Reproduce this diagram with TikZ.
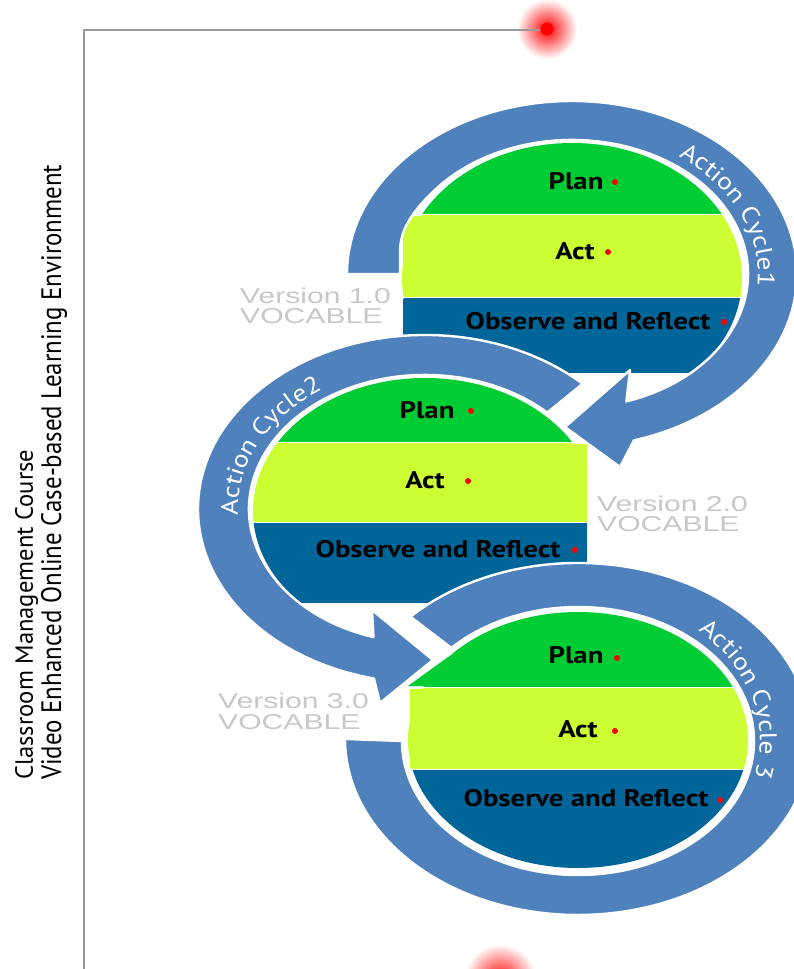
\documentclass[tikz,border=0pt]{standalone}
\usepackage{fontspec}
\usetikzlibrary{decorations.text,calc}
\newfontfamily\bandfont[FakeStretch=1.2]{PT Sans}
\newfontfamily\verfont[FakeStretch=1.4]{Liberation Sans}
\newfontfamily\ringfont[FakeStretch=1.15]{PT Sans}
\newfontfamily\titlefont{PT Sans}
\definecolor{cRing}{HTML}{4F81BD}
\definecolor{cPlan}{HTML}{00CC33}
\definecolor{cAct}{HTML}{CCFF33}
\definecolor{cObs}{HTML}{006699}
\definecolor{cVer}{HTML}{C8C8C8}
\definecolor{cFrame}{HTML}{999999}
\begin{document}
\begin{tikzpicture}[x=1pt,y=1pt,
  ringshape/.style={fill=cRing, draw=white, line width=2.4, line join=round},
  bandtext/.style={font=\bandfont\bfseries\fontsize{24}{24}\selectfont, text=black, anchor=base, inner sep=0pt},
  verlabel/.style={font=\verfont\fontsize{21.5}{22}\selectfont, text=cVer, anchor=base west, inner sep=0pt},
  titleline/.style={rotate=90, anchor=north west, inner sep=0pt},
  reddot/.style={fill=red},
  framestyle/.style={cFrame, line width=1.4}
]
\useasboundingbox (0,0) rectangle (794,-969);
\fill[white] (0,0) rectangle (794,-969);

% glowing dots and frame
\shade[inner color=red, outer color=white] (547,-29) circle (30);
\shade[inner color=red, outer color=white] (500,-980) circle (36);
\coordinate (frameBL) at (84,-969.5);
\coordinate (frameTL) at (84,-30);
\coordinate (frameTR) at (540,-30);
\draw[framestyle] (frameBL) -- (frameTL) -- (frameTR);
\fill[red] (547,-29) circle (6.5);
\fill[red] (500,-980) circle (7.5);

% title
\node[titleline] (title1) at (15,-780)
 {\resizebox*{330pt}{23pt}{\titlefont Classroom Management Course}};
\node[titleline] (title2) at (41,-780)
 {\resizebox*{615pt}{26pt}{\titlefont Video Enhanced Online Case-based Learning Environment}};

% version labels
\node[verlabel] (v1a) at (240,-303) {Version 1.0};
\node[verlabel] (v1b) at (240,-323) {VOCABLE};
\node[verlabel] (v2a) at (597,-511) {Version 2.0};
\node[verlabel] (v2b) at (597,-531) {VOCABLE};
\node[verlabel] (v3a) at (218,-708) {Version 3.0};
\node[verlabel] (v3b) at (218,-729) {VOCABLE};

% ---- disc 1
\begin{scope}
  \clip (380,-100) rectangle (760,-213);
  \fill[cPlan] (572,-278) ellipse [x radius=170, y radius=135];
\end{scope}
\begin{scope}
  \clip (380,-215.5) rectangle (760,-296);
  \fill[cAct] (572,-278) ellipse [x radius=170, y radius=135];
  \fill[cAct] (403,-215.5) rectangle (572,-296);
\end{scope}
\begin{scope}
  \clip (380,-298.5) rectangle (760,-372);
  \fill[cObs] (572,-278) ellipse [x radius=170, y radius=135];
  \fill[cObs] (403,-298.5) rectangle (572,-372);
\end{scope}

% ---- disc 2
\begin{scope}
  \clip (240,-360) rectangle (600,-441);
  \fill[cPlan] (425,-511) ellipse [x radius=172, y radius=133];
\end{scope}
\begin{scope}
  \clip (240,-443.5) rectangle (587,-521);
  \fill[cAct] (425,-511) ellipse [x radius=172, y radius=133];
  \fill[cAct] (425,-443.5) rectangle (587,-521);
\end{scope}
\begin{scope}
  \clip (240,-523.5) rectangle (587,-602);
  \fill[cObs] (425,-511) ellipse [x radius=172, y radius=133];
  \fill[cObs] (425,-523.5) rectangle (587,-602);
\end{scope}

% ---- ring 3
\filldraw[ringshape] (410.4,-616.7)
  arc[start angle=136, end angle=-180, x radius=233, y radius=176]
  -- (402,-741)
  arc[start angle=180, end angle=496, x radius=176, y radius=134]
  -- cycle;

% ---- disc 3
\begin{scope}
  \clip (390,-600) rectangle (760,-686);
  \fill[cPlan] (578,-740) ellipse [x radius=170, y radius=128];
  \fill[cPlan] (408,-686) -- (448,-657) -- (578,-657) -- (578,-686) -- cycle;
\end{scope}
\begin{scope}
  \clip (390,-688.5) rectangle (760,-768);
  \fill[cAct] (578,-740) ellipse [x radius=170, y radius=128];
  \fill[cAct] (410,-688.5) rectangle (578,-768);
\end{scope}
\begin{scope}
  \clip (390,-770.5) rectangle (760,-880);
  \fill[cObs] (578,-740) ellipse [x radius=170, y radius=128];
\end{scope}

% ---- ring 2 (arrow into cycle 3)
\filldraw[ringshape] (582.7,-383.8)
  arc[start angle=46, end angle=257, x radius=227, y radius=174]
  -- (380,-703) -- (433,-660) -- (372,-610)
  -- (373.5,-637.1)
  arc[start angle=253, end angle=46, x radius=176, y radius=134]
  -- cycle;

% ---- ring 1 (arrow into cycle 2)
\filldraw[ringshape] (347,-274)
  arc[start angle=180, end angle=-74, x radius=225, y radius=173]
  -- (620,-467) -- (565,-427) -- (630,-370)
  -- (626.4,-401.4)
  arc[start angle=-72, end angle=140, x radius=176, y radius=134]
  .. controls (409,-214) and (400,-232) .. (400,-252)
  -- (400,-274) -- cycle;

% ---- band texts
\node[bandtext] (p1) at (576,-189) {Plan};
\node[bandtext] (a1) at (575,-259) {Act};
\node[bandtext] (o1) at (588,-329) {Observe and Reflect};
\node[bandtext] (p2) at (427,-418) {Plan};
\node[bandtext] (a2) at (425,-488) {Act};
\node[bandtext] (o2) at (438,-557) {Observe and Reflect};
\node[bandtext] (p3) at (576,-663) {Plan};
\node[bandtext] (a3) at (578,-737) {Act};
\node[bandtext] (o3) at (586,-806) {Observe and Reflect};

\fill[reddot] (615,-182) circle (3);
\fill[reddot] (608,-252) circle (3);
\fill[reddot] (724,-322) circle (3);
\fill[reddot] (471,-411) circle (3);
\fill[reddot] (468,-481) circle (3);
\fill[reddot] (575,-550) circle (3);
\fill[reddot] (617,-658) circle (3);
\fill[reddot] (615,-731) circle (3);
\fill[reddot] (720,-800) circle (3);

% ---- ring labels
\path[decorate, decoration={text along path, text align=center, text color=white,
   text={|\ringfont\fontsize{24}{24}\selectfont|Action Cycle1}}]
   (620.1,-135.9) arc[start angle=75, end angle=-29, x radius=186, y radius=143];
\path[decorate, decoration={text along path, text align=center, text color=white,
   text={|\ringfont\fontsize{24}{24}\selectfont|Action Cycle2}}]
   (255.5,-569.4) arc[start angle=205, end angle=105, x radius=187, y radius=143];
\path[decorate, decoration={text along path, text align=center, text color=white,
   text={|\ringfont\fontsize{24}{24}\selectfont|Action Cycle 3}}]
   (652,-606.6) arc[start angle=66, end angle=-34, x radius=182, y radius=146];
\end{tikzpicture}
\end{document}
